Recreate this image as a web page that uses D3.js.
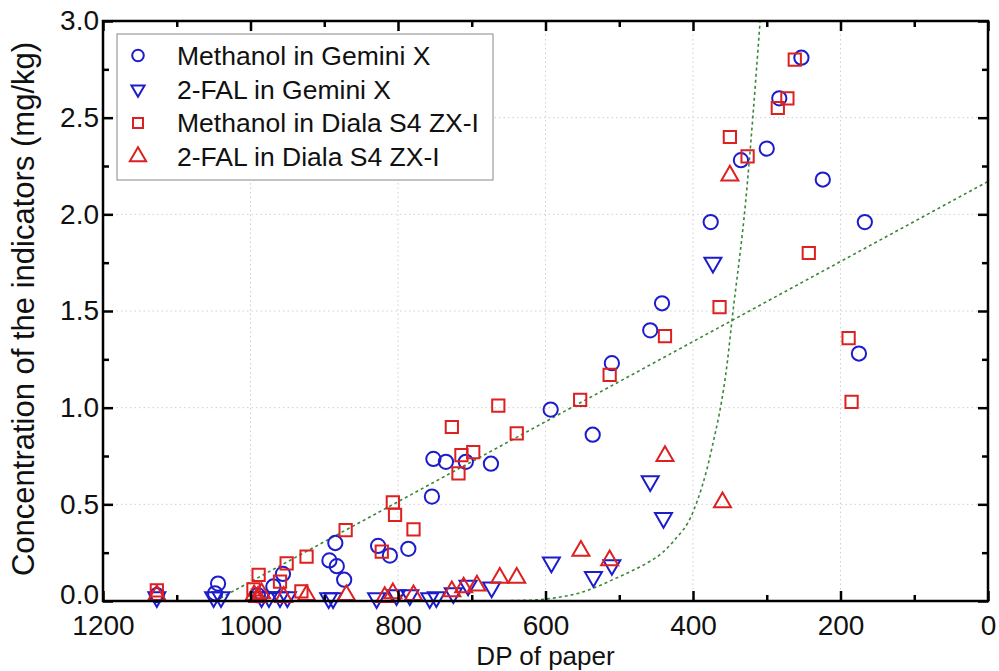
<!DOCTYPE html>
<html lang="en">
<head>
<meta charset="utf-8">
<title>DP of paper vs indicators</title>
<script src="https://d3js.org/d3.v7.min.js"></script>
<style>
  body { margin: 0; background: #fff; }
  text { font-family: "Liberation Sans", Arial, sans-serif; }
</style>
</head>
<body>
<div id="chart"></div>
<script>
// values: [DP, concentration mg/kg]
var methanolGemini = [
  [1127, 0.03], [1044, 0.09], [1048, 0.04], [990, 0.03], [969, 0.075], [956, 0.14],
  [893, 0.21], [885, 0.30], [883, 0.18], [873, 0.11], [827, 0.285], [811, 0.235],
  [786, 0.27], [754, 0.54], [752, 0.735], [735, 0.72], [708, 0.72], [674, 0.71],
  [593, 0.99], [536, 0.86], [510, 1.23], [458, 1.40], [442, 1.54], [376, 1.96],
  [335, 2.28], [300, 2.34], [283, 2.60], [253, 2.81], [224, 2.18], [167, 1.96], [175, 1.28]
];
var falGemini = [
  [1127, 0.02], [1050, 0.02], [1040, 0.02], [985, 0.02], [975, 0.02], [960, 0.02],
  [950, 0.02], [894, 0.015], [888, 0.015], [829, 0.015], [802, 0.03], [784, 0.03],
  [757, 0.015], [748, 0.02], [725, 0.04], [705, 0.08], [673, 0.07], [592, 0.20],
  [535, 0.125], [510, 0.186], [458, 0.62], [440, 0.43], [373, 1.75]
];
var methanolDiala = [
  [1127, 0.055], [996, 0.06], [989, 0.135], [960, 0.10], [951, 0.195], [931, 0.05],
  [924, 0.23], [871, 0.367], [822, 0.255], [807, 0.51], [804, 0.445], [779, 0.37],
  [727, 0.90], [718, 0.66], [714, 0.755], [698, 0.77], [664, 1.01], [639, 0.867],
  [553, 1.04], [513, 1.17], [438, 1.37], [364, 1.52], [350, 2.40], [326, 2.30],
  [285, 2.55], [272, 2.60], [262, 2.80], [243, 1.80], [189, 1.36], [185, 1.03]
];
var falDiala = [
  [1127, 0.03], [995, 0.03], [990, 0.02], [985, 0.04], [955, 0.02], [924, 0.03],
  [870, 0.03], [818, 0.02], [807, 0.04], [779, 0.03], [727, 0.05], [711, 0.07],
  [693, 0.08], [662, 0.12], [639, 0.12], [552, 0.26], [513, 0.21], [438, 0.75],
  [360, 0.51], [350, 2.20]
];

// trend lines, points
var linearFit = [[1048, 0], [0, 2.17]];
var expFit = [
  [1200, 0], [700, 0], [620, 0.004], [590, 0.015], [553, 0.043], [530, 0.074],
  [508, 0.112], [485, 0.152], [463, 0.195], [440, 0.255], [427, 0.307], [400, 0.46],
  [375, 0.78], [353, 1.25], [347.5, 1.44], [328.5, 2.07], [309, 3.0]
];

var xTicks = [1200, 1000, 800, 600, 400, 200, 0];
var xMinor = [1100, 900, 700, 500, 300, 100];
var yTicks = [0, 0.5, 1.0, 1.5, 2.0, 2.5, 3.0];
var yMinor = [0.25, 0.75, 1.25, 1.75, 2.25, 2.75];

var seriesNames = ["Methanol in Gemini X", "2-FAL in Gemini X",
  "Methanol in Diala S4 ZX-I", "2-FAL in Diala S4 ZX-I"];

var blue = "#1c1ccc", red = "#dd2020", green = "#3a863a";

var margin = { top: 21, right: 11, bottom: 70, left: 103 },
  width = 999 - margin.left - margin.right,
  height = 671 - margin.top - margin.bottom;

var svg = d3.select("#chart").append("svg")
  .attr("width", 999).attr("height", 671)
  .append("g")
  .attr("transform", "translate(" + margin.left + "," + margin.top + ")");

var x = d3.scaleLinear().domain([1200, 0]).range([0, width]);
var y = d3.scaleLinear().domain([0, 3]).range([height, 0]);

// grid
svg.append("g").selectAll("line").data(xTicks.slice(1, -1)).enter().append("line")
  .attr("x1", d => x(d)).attr("x2", d => x(d)).attr("y1", 0).attr("y2", height)
  .attr("stroke", "#cfcfcf").attr("stroke-dasharray", "1.5,3");
svg.append("g").selectAll("line").data(yTicks.slice(1, -1)).enter().append("line")
  .attr("y1", d => y(d)).attr("y2", d => y(d)).attr("x1", 0).attr("x2", width)
  .attr("stroke", "#cfcfcf").attr("stroke-dasharray", "1.5,3");

// fits
var line = d3.line().x(d => x(d[0])).y(d => y(d[1]));
svg.append("path").datum(linearFit).attr("d", line)
  .attr("fill", "none").attr("stroke", green).attr("stroke-width", 1.6)
  .attr("stroke-dasharray", "3,3");
svg.append("path").datum(expFit).attr("d", line.curve(d3.curveMonotoneX))
  .attr("fill", "none").attr("stroke", green).attr("stroke-width", 1.6)
  .attr("stroke-dasharray", "3,3");

// markers
function marker(type, size, rot) {
  var sym = d3.symbol().type(type).size(size);
  return function (sel) {
    sel.attr("d", sym()).attr("transform", function (d) {
      return "translate(" + d[0] + "," + d[1] + ")" + (rot ? " rotate(180)" : "");
    });
  };
}
var specs = [
  { data: methanolGemini, type: d3.symbolCircle, size: 160, rot: false, color: blue },
  { data: falGemini, type: d3.symbolTriangle, size: 125, rot: true, color: blue },
  { data: methanolDiala, type: d3.symbolSquare, size: 150, rot: false, color: red },
  { data: falDiala, type: d3.symbolTriangle, size: 125, rot: false, color: red }
];
specs.forEach(function (s) {
  svg.append("g").selectAll("path")
    .data(s.data.map(d => [x(d[0]), y(d[1])]))
    .enter().append("path")
    .call(marker(s.type, s.size, s.rot))
    .attr("fill", "none").attr("stroke", s.color).attr("stroke-width", 2);
});

// frame and inward ticks
svg.append("rect").attr("width", width).attr("height", height)
  .attr("fill", "none").attr("stroke", "#000").attr("stroke-width", 2.5);

svg.append("g").attr("transform", "translate(0," + height + ")")
  .call(d3.axisBottom(x).tickValues(xTicks).tickSize(-10).tickPadding(14.5).tickFormat(d3.format("d")))
  .call(g => g.select(".domain").remove());
svg.append("g").attr("transform", "translate(0," + height + ")")
  .call(d3.axisBottom(x).tickValues(xMinor).tickSize(-6).tickFormat(""))
  .call(g => g.select(".domain").remove());
svg.append("g")
  .call(d3.axisTop(x).tickValues(xTicks).tickSize(-10).tickFormat(""))
  .call(g => g.select(".domain").remove());
svg.append("g")
  .call(d3.axisTop(x).tickValues(xMinor).tickSize(-6).tickFormat(""))
  .call(g => g.select(".domain").remove());

var yAxisG = svg.append("g")
  .call(d3.axisLeft(y).tickValues(yTicks).tickSize(-10).tickPadding(4).tickFormat(d3.format(".1f")))
  .call(g => g.select(".domain").remove());
svg.append("g")
  .call(d3.axisLeft(y).tickValues(yMinor).tickSize(-6).tickFormat(""))
  .call(g => g.select(".domain").remove());
svg.append("g").attr("transform", "translate(" + width + ",0)")
  .call(d3.axisRight(y).tickValues(yTicks).tickSize(-10).tickFormat(""))
  .call(g => g.select(".domain").remove());
svg.append("g").attr("transform", "translate(" + width + ",0)")
  .call(d3.axisRight(y).tickValues(yMinor).tickSize(-6).tickFormat(""))
  .call(g => g.select(".domain").remove());

svg.selectAll(".tick line").attr("stroke", "#000").attr("stroke-width", 2.5);
svg.selectAll(".tick text").attr("font-size", 28).attr("fill", "#111")
  .style("font-family", "'Liberation Sans', Arial, sans-serif");
// keep "0.0" clear of "1200"
yAxisG.selectAll(".tick text").filter(d => d === 0).attr("dy", "0.1em");

// axis titles
svg.append("text").attr("x", width / 2).attr("y", height + 64)
  .attr("text-anchor", "middle").attr("font-size", 26).attr("fill", "#111")
  .text("DP of paper");
svg.append("text").attr("transform", "translate(" + (-69) + "," + (height / 2 - 2) + ") rotate(-90)")
  .attr("text-anchor", "middle").attr("font-size", 31).attr("fill", "#111")
  .text("Concentration of the indicators (mg/kg)");

// legend
var lg = svg.append("g").attr("transform", "translate(14,13)");
lg.append("rect").attr("width", 376).attr("height", 146)
  .attr("fill", "#fff").attr("stroke", "#888").attr("stroke-width", 1);
var legendSym = [
  { type: d3.symbolCircle, size: 105, rot: false, color: blue },
  { type: d3.symbolTriangle, size: 75, rot: true, color: blue },
  { type: d3.symbolSquare, size: 100, rot: false, color: red },
  { type: d3.symbolTriangle, size: 115, rot: false, color: red }
];
seriesNames.forEach(function (name, i) {
  var cy = 21.5 + i * 33.7;
  var s = legendSym[i];
  lg.append("path").datum([21, cy])
    .call(marker(s.type, s.size, s.rot))
    .attr("fill", "none").attr("stroke", s.color).attr("stroke-width", 2);
  lg.append("text").attr("x", 60).attr("y", cy + 9.5)
    .attr("font-size", 26.5).attr("fill", "#111").text(name);
});
</script>
</body>
</html>
